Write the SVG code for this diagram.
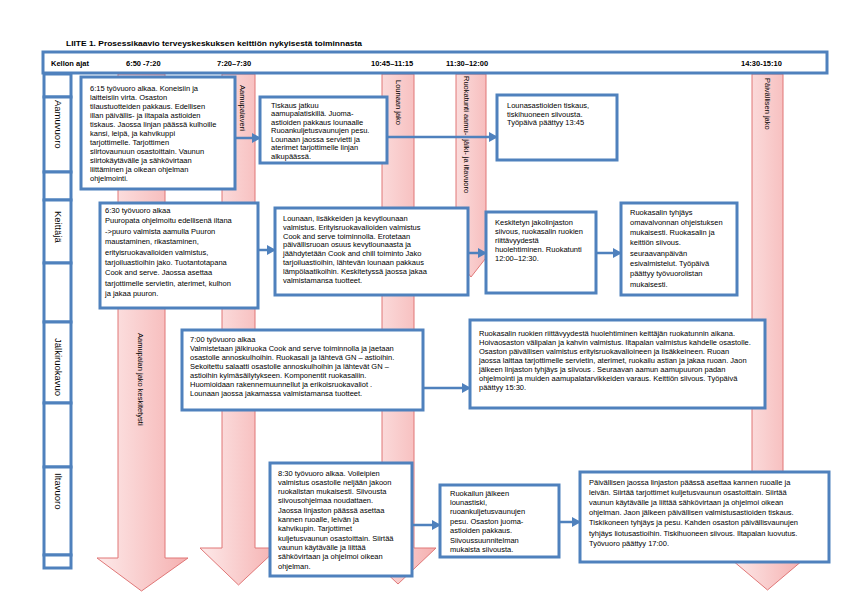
<svg xmlns="http://www.w3.org/2000/svg" width="842" height="595" viewBox="0 0 842 595">
<defs>
<linearGradient id="pg" x1="0" y1="0" x2="1" y2="0">
<stop offset="0" stop-color="#fdeaea"/>
<stop offset="1" stop-color="#f5b0b0"/>
</linearGradient>
<marker id="ah" markerUnits="userSpaceOnUse" markerWidth="9" markerHeight="10" refX="8" refY="5" orient="auto">
<path d="M0,0 L9,5 L0,10 Z" fill="#4f81bd"/>
</marker>
</defs>
<style>
.box{fill:#fff;stroke:#4f81bd;stroke-width:3}
.col{fill:#fff;stroke:#4f81bd;stroke-width:3}
.arr{fill:url(#pg);stroke:#e07777;stroke-width:1}
.t{font-family:"Liberation Sans",Arial,sans-serif;font-size:7.5px;fill:#000}
.lab{font-family:"Liberation Sans",Arial,sans-serif;font-size:9.5px;fill:#000}
.hd{font-family:"Liberation Sans",Arial,sans-serif;font-size:7.5px;font-weight:bold;fill:#000}
.con{fill:none;stroke:#4f81bd;stroke-width:2.5;marker-end:url(#ah)}
</style>
<rect width="842" height="595" fill="#fff"/>

<text x="66" y="46" class="hd" font-size="8" textLength="296" lengthAdjust="spacingAndGlyphs">LIITE 1. Prosessikaavio terveyskeskuksen keittiön nykyisestä toiminnasta</text>

<g id="arrows">
<g id="arrow-aamupalan">
<polygon class="arr" points="118,74 165,74 165,558 188,558 141.5,591 97,558 118,558"/>
<text class="t" font-size="9.5" transform="translate(138,333) rotate(90)">Aamupalan jako keskitetysti</text>
</g>
<g id="arrow-aamupalaveri">
<polygon class="arr" points="222,74 255,74 255,548 278,548 238.5,585 200,548 222,548"/>
<text class="t" transform="translate(239.5,85) rotate(90)">Aamupalaveri</text>
</g>
<g id="arrow-lounaan">
<polygon class="arr" points="382,74 414,74 414,548 436,548 398,584 360,548 382,548"/>
<text class="t" transform="translate(395.5,80) rotate(90)">Lounaan jako</text>
</g>
<g id="arrow-ruokatunti">
<polygon class="arr" points="456,74 486,74 486,240 500,240 471,277 442,240 456,240"/>
<text class="t" transform="translate(464,76) rotate(90)">Ruokatunti aamu-, jälki- ja iltavuoro</text>
</g>
<g id="arrow-paivallisen">
<polygon class="arr" points="752,74 783,74 783,560 803,560 767.5,590 732,560 752,560"/>
<text class="t" transform="translate(765,78) rotate(90)">Päivällisen jako</text>
</g>
</g>

<g id="header">
<rect x="43" y="52" width="784" height="21" class="box"/>
<text class="hd" x="51" y="66">Kellon ajat</text>
<text class="hd" x="126" y="66">6:50 -7:20</text>
<text class="hd" x="217" y="66">7:20–7:30</text>
<text class="hd" x="371" y="66">10:45–11:15</text>
<text class="hd" x="446" y="66">11:30–12:00</text>
<text class="hd" x="741" y="66">14:30-15:10</text>
</g>

<g id="lanes">
<rect class="col" x="44" y="74" width="27" height="23"/>
<rect class="col" x="44" y="97" width="27" height="75"/>
<rect class="col" x="44" y="172" width="27" height="28"/>
<rect class="col" x="44" y="200" width="27" height="63"/>
<rect class="col" x="44" y="263" width="27" height="59"/>
<rect class="col" x="44" y="322" width="27" height="81"/>
<rect class="col" x="44" y="403" width="27" height="64"/>
<rect class="col" x="44" y="467" width="27" height="88"/>
<rect class="col" x="44" y="555" width="27" height="13"/>
<text class="lab" transform="translate(54.5,100) rotate(90)">Aamuvuoro</text>
<text class="lab" transform="translate(54.5,211) rotate(90)">Keittäjä</text>
<text class="lab" transform="translate(54.5,338) rotate(90)">Jälkiruokavuo</text>
<text class="lab" transform="translate(54.5,473) rotate(90)">Iltavuoro</text>
</g>

<g id="connectors">
<line class="con" x1="235" y1="138" x2="260" y2="138"/>
<line class="con" x1="387" y1="137" x2="497" y2="137"/>
<line class="con" x1="258" y1="250" x2="275" y2="250"/>
<line class="con" x1="468" y1="253" x2="486" y2="253"/>
<line class="con" x1="596" y1="253" x2="621" y2="253"/>
<line class="con" x1="423" y1="388" x2="470" y2="388"/>
<line class="con" x1="412" y1="525" x2="440" y2="525"/>
<line class="con" x1="559" y1="522" x2="580" y2="522"/>
</g>

<g id="b1">
<rect class="box" x="81" y="77" width="154" height="112"/>
<text class="t" font-size="7.8">
<tspan x="90" y="91">6:15 työvuoro alkaa. Koneisiin ja</tspan>
<tspan x="90" y="100">laitteisiin virta. Osaston</tspan>
<tspan x="90" y="109">tilaustuotteiden pakkaus.  Edellisen</tspan>
<tspan x="90" y="118">illan päivällis- ja iltapala astioiden</tspan>
<tspan x="90" y="127">tiskaus. Jaossa linjan päässä kulhoille</tspan>
<tspan x="90" y="136">kansi, leipä, ja kahvikuppi</tspan>
<tspan x="90" y="145">tarjottimelle. Tarjottimen</tspan>
<tspan x="90" y="154">siirtovaunuun osastoittain. Vaunun</tspan>
<tspan x="90" y="163">siirtokäytävälle ja  sähkövirtaan</tspan>
<tspan x="90" y="172">liittäminen ja oikean ohjelman</tspan>
<tspan x="90" y="181">ohjelmointi.</tspan>
</text>
</g>

<g id="b2">
<rect class="box" x="260" y="97" width="127" height="66"/>
<text class="t" font-size="8.1">
<tspan x="271" y="107.5">Tiskaus jatkuu</tspan>
<tspan x="271" y="116">aamupalatiskillä.       Juoma-</tspan>
<tspan x="271" y="124.5">astioiden pakkaus lounaalle</tspan>
<tspan x="271" y="133">Ruoankuljetusvaunujen pesu.</tspan>
<tspan x="271" y="141.5">Lounaan jaossa servietti ja</tspan>
<tspan x="271" y="150">aterimet tarjottimelle linjan</tspan>
<tspan x="271" y="158.5">alkupäässä.</tspan>
</text>
</g>

<g id="b5">
<rect class="box" x="497" y="95" width="120" height="65"/>
<text class="t" font-size="7.6">
<tspan x="507" y="108">Lounasastioiden tiskaus,</tspan>
<tspan x="507" y="116.5">tiskihuoneen siivousta.</tspan>
<tspan x="507" y="125">Työpäivä päättyy 13:45</tspan>
</text>
</g>

<g id="b3">
<rect class="box" x="100" y="203" width="158" height="105"/>
<text class="t" font-size="7.65">
<tspan x="105" y="213">6:30 työvuoro alkaa</tspan>
<tspan x="105" y="223.4">Puuropata ohjelmoitu edellisenä iltana</tspan>
<tspan x="105" y="233.8">-&gt;puuro valmista aamulla Puuron</tspan>
<tspan x="105" y="244.2">maustaminen, rikastaminen,</tspan>
<tspan x="105" y="254.6">erityisruokavalioiden valmistus,</tspan>
<tspan x="105" y="265">tarjoiluastioihin jako. Tuotantotapana</tspan>
<tspan x="105" y="275.4">Cook and serve. Jaossa asettaa</tspan>
<tspan x="105" y="285.8">tarjottimelle servietin, aterimet, kulhon</tspan>
<tspan x="105" y="296.2">ja jakaa puuron.</tspan>
</text>
</g>

<g id="b4">
<rect class="box" x="275" y="208" width="193" height="87"/>
<text class="t" font-size="7.8">
<tspan x="283" y="221">Lounaan, lisäkkeiden ja kevytlounaan</tspan>
<tspan x="283" y="229.8">valmistus. Erityisruokavalioiden valmistus</tspan>
<tspan x="283" y="238.6">Cook and serve toiminnolla. Erotetaan</tspan>
<tspan x="283" y="247.4">päivällisruoan osuus kevytlounaasta ja</tspan>
<tspan x="283" y="256.2">jäähdytetään Cook and chill toiminto Jako</tspan>
<tspan x="283" y="265">tarjoiluastioihin, lähtevän lounaan pakkaus</tspan>
<tspan x="283" y="273.8">lämpölaatikoihin. Keskitetyssä jaossa jakaa</tspan>
<tspan x="283" y="282.6">valmistamansa tuotteet.</tspan>
</text>
</g>

<g id="b6">
<rect class="box" x="486" y="212" width="110" height="81"/>
<text class="t" font-size="7.9">
<tspan x="495" y="225">Keskitetyn jakolinjaston</tspan>
<tspan x="495" y="234">siivous, ruokasalin ruokien</tspan>
<tspan x="495" y="243">riittävyydestä</tspan>
<tspan x="495" y="252">huolehtiminen. Ruokatunti</tspan>
<tspan x="495" y="261">12:00–12:30.</tspan>
</text>
</g>

<g id="b7">
<rect class="box" x="621" y="203" width="116" height="92"/>
<text class="t">
<tspan x="630" y="214.5">Ruokasalin tyhjäys</tspan>
<tspan x="630" y="224.8">omavalvonnan ohjeistuksen</tspan>
<tspan x="630" y="235.1">mukaisesti. Ruokasalin  ja</tspan>
<tspan x="630" y="245.4">keittiön siivous.</tspan>
<tspan x="630" y="255.7">seuraavanpäivän</tspan>
<tspan x="630" y="266">esivalmistelut. Työpäivä</tspan>
<tspan x="630" y="276.3">päättyy työvuorolistan</tspan>
<tspan x="630" y="286.6">mukaisesti.</tspan>
</text>
</g>

<g id="b8">
<rect class="box" x="182" y="330" width="241" height="80"/>
<text class="t" font-size="7.7">
<tspan x="190" y="341.5">7:00 työvuoro alkaa</tspan>
<tspan x="190" y="350.5">Valmistetaan jälkiruoka Cook and serve toiminnolla ja jaetaan</tspan>
<tspan x="190" y="359.5">osastolle annoskulhoihin. Ruokasali ja lähtevä GN – astioihin.</tspan>
<tspan x="190" y="368.5">Sekoitettu salaatti osastolle annoskulhoihin ja lähtevät GN –</tspan>
<tspan x="190" y="377.5">astioihin kylmäsäilytykseen. Komponentit ruokasaliin.</tspan>
<tspan x="190" y="386.5">Huomioidaan rakennemuunnellut ja erikoisruokavaliot .</tspan>
<tspan x="190" y="395.5">Lounaan jaossa jakamassa valmistamansa  tuotteet.</tspan>
</text>
</g>

<g id="b9">
<rect class="box" x="470" y="320" width="295" height="88"/>
<text class="t" font-size="7.8">
<tspan x="479" y="335.5">Ruokasalin ruokien riittävyydestä huolehtiminen keittäjän ruokatunnin aikana.</tspan>
<tspan x="479" y="344.6">Hoivaosaston välipalan ja kahvin valmistus. Iltapalan valmistus kahdelle osastolle.</tspan>
<tspan x="479" y="353.7">Osaston päivällisen valmistus erityisruokavalioineen ja lisäkkeineen. Ruoan</tspan>
<tspan x="479" y="362.8">jaossa laittaa tarjottimelle servietin, aterimet, ruokailu astian ja jakaa ruoan. Jaon</tspan>
<tspan x="479" y="371.9">jälkeen linjaston tyhjäys ja  siivous . Seuraavan aamun aamupuuron padan</tspan>
<tspan x="479" y="381">ohjelmointi ja muiden aamupalatarvikkeiden varaus. Keittiön siivous. Työpäivä</tspan>
<tspan x="479" y="390.1">päättyy 15:30.</tspan>
</text>
</g>

<g id="b10">
<rect class="box" x="270" y="463" width="142" height="113"/>
<text class="t">
<tspan x="278" y="475.5">8:30 työvuoro alkaa.  Voileipien</tspan>
<tspan x="278" y="484.8">valmistus osastolle neljään jakoon</tspan>
<tspan x="278" y="494.1">ruokalistan mukaisesti.  Siivousta</tspan>
<tspan x="278" y="503.4">siivousohjelmaa noudattaen.</tspan>
<tspan x="278" y="512.7">Jaossa linjaston päässä asettaa</tspan>
<tspan x="278" y="522">kannen ruoalle, leivän ja</tspan>
<tspan x="278" y="531.3">kahvikupin. Tarjottimet</tspan>
<tspan x="278" y="540.6">kuljetusvaunun osastoittain. Siirtää</tspan>
<tspan x="278" y="549.9">vaunun käytävälle ja liittää</tspan>
<tspan x="278" y="559.2">sähkövirtaan ja ohjelmoi oikean</tspan>
<tspan x="278" y="568.5">ohjelman.</tspan>
</text>
</g>

<g id="b11">
<rect class="box" x="440" y="485" width="119" height="72"/>
<text class="t" font-size="7.9">
<tspan x="450" y="495.5">Ruokailun jälkeen</tspan>
<tspan x="450" y="504.9">lounastiski,</tspan>
<tspan x="450" y="514.3">ruoankuljetusvaunujen</tspan>
<tspan x="450" y="523.7">pesu. Osaston juoma-</tspan>
<tspan x="450" y="533.1">astioiden pakkaus.</tspan>
<tspan x="450" y="542.5">Siivoussuunnitelman</tspan>
<tspan x="450" y="551.9">mukaista siivousta.</tspan>
</text>
</g>

<g id="b12">
<rect class="box" x="580" y="472" width="249" height="90"/>
<text class="t" font-size="7.85">
<tspan x="589" y="484.5">Päivällisen jaossa linjaston päässä asettaa kannen ruoalle ja</tspan>
<tspan x="589" y="494.7">leivän.  Siirtää tarjottimet kuljetusvaunun osastoittain. Siirtää</tspan>
<tspan x="589" y="504.9">vaunun käytävälle ja liittää sähkövirtaan ja ohjelmoi oikean</tspan>
<tspan x="589" y="515.1">ohjelman. Jaon jälkeen päivällisen valmistusastioiden tiskaus.</tspan>
<tspan x="589" y="525.3">Tiskikoneen tyhjäys ja pesu. Kahden osaston päivällisvaunujen</tspan>
<tspan x="589" y="535.5">tyhjäys liotusastioihin. Tiskihuoneen siivous. Iltapalan luovutus.</tspan>
<tspan x="589" y="545.7">Työvuoro päättyy  17:00.</tspan>
</text>
</g>
</svg>
